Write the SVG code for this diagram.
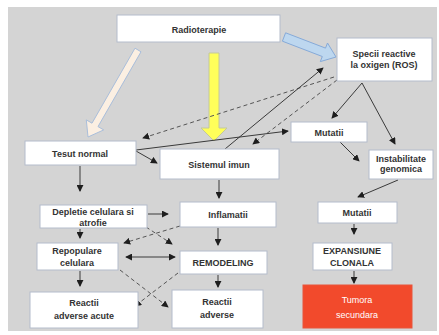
<svg xmlns="http://www.w3.org/2000/svg" width="439" height="335" viewBox="0 0 439 335">
<defs>
<marker id="ah" viewBox="0 0 8 8" refX="7" refY="4" markerWidth="7" markerHeight="7" markerUnits="userSpaceOnUse" orient="auto-start-reverse">
<path d="M0,0 L8,4 L0,8 z" fill="#1e1e1e"/>
</marker>
</defs>
<style>
.box{fill:#ffffff;stroke:#b4bccb;stroke-width:1}
.t{font-family:"Liberation Sans",Arial,sans-serif;font-size:9px;font-weight:bold;fill:#333333;text-anchor:middle}
.c{fill:none;stroke:#3a3a3a;stroke-width:1;marker-end:url(#ah)}
.d{fill:none;stroke:#555555;stroke-width:1;stroke-dasharray:4,3;marker-end:url(#ah)}
</style>
<rect x="0" y="0" width="439" height="335" fill="#ffffff"/>
<rect x="8" y="7" width="429" height="324" fill="#d4d4d4"/>

<g id="arrows-big">
<polygon points="141,51.8 98,126.6 103.7,129.9 88,137 86.3,119.9 92,123.2 135,48.2" fill="#fbefe2" stroke="#a9bedb" stroke-width="1"/>
<polygon points="209,53 219,53 219,128 227,128 214,141 201,128 209,128" fill="#ffff5a" stroke="#c4c99a" stroke-width="1"/>
<polygon points="282.4,41.2 322.3,56.5 320.3,61.6 336,57 327.5,43 325.5,48.1 285.6,32.8" fill="#bdd7ef" stroke="#86aad8" stroke-width="1"/>
</g>

<g id="connectors">
<path class="d" d="M334,77 L143,138"/>
<path class="c" d="M225,149 L323,68"/>
<path class="d" d="M337,80 L253,144"/>
<path class="c" d="M362,83 L332,118"/>
<path class="c" d="M362,83 L395,144"/>
<path class="c" d="M136,150 L288,131"/>
<path class="c" d="M136,151 L157,163"/>
<path class="c" d="M340,142 L359,161"/>
<path class="c" d="M398,180 L358,197"/>
<path class="c" d="M354,224 L354,234"/>
<path class="c" d="M354,271 L354,283"/>
<path class="c" d="M219,180 L219,198"/>
<path class="c" d="M218,228 L218,245"/>
<path class="c" d="M218,275 L218,287"/>
<path class="c" d="M80,166 L80,191"/>
<path class="c" d="M80,229 L80,238"/>
<path class="c" d="M80,271 L80,286"/>
<path class="c" d="M148,214 L168,214"/>
<path class="c" d="M126,257 L175,257" marker-start="url(#ah)"/>
<path class="d" d="M180,226 L124,243"/>
<path class="d" d="M146,227 L172,244"/>
<path class="d" d="M120,270 L168,307"/>
<path class="d" d="M178,273 L135,306"/>
</g>

<g id="radioterapie">
<rect class="box" x="117" y="15" width="163" height="27"/>
<text class="t" x="199" y="33" font-size="13">Radioterapie</text>
</g>
<g id="ros">
<rect class="box" x="337" y="38" width="95" height="43"/>
<text class="t" x="384" y="57">Specii reactive</text>
<text class="t" x="384" y="68">la oxigen (ROS)</text>
</g>
<g id="tesut-normal">
<rect class="box" x="25" y="141" width="111" height="24"/>
<text class="t" x="80" y="157" font-size="10">Tesut normal</text>
</g>
<g id="sistemul-imun">
<rect class="box" x="160" y="149" width="119" height="30"/>
<text class="t" x="219" y="168" font-size="10">Sistemul imun</text>
</g>
<g id="mutatii-1">
<rect class="box" x="291" y="122" width="76" height="20"/>
<text class="t" x="329" y="136" font-size="10">Mutatii</text>
</g>
<g id="instabilitate">
<rect class="box" x="369" y="150" width="64" height="29"/>
<text class="t" x="401" y="162" font-size="7.5">Instabilitate</text>
<text class="t" x="401" y="172" font-size="7.5">genomica</text>
</g>
<g id="depletie">
<rect class="box" x="40" y="205" width="107" height="23"/>
<text class="t" x="93" y="215">Depletie celulara si</text>
<text class="t" x="93" y="226">atrofie</text>
</g>
<g id="inflamatii">
<rect class="box" x="180" y="202" width="96" height="25"/>
<text class="t" x="228" y="218" font-size="10">Inflamatii</text>
</g>
<g id="mutatii-2">
<rect class="box" x="318" y="202" width="79" height="21"/>
<text class="t" x="357" y="216" font-size="10">Mutatii</text>
</g>
<g id="repopulare">
<rect class="box" x="37" y="243" width="81" height="27"/>
<text class="t" x="77" y="254">Repopulare</text>
<text class="t" x="77" y="266">celulara</text>
</g>
<g id="remodeling">
<rect class="box" x="180" y="251" width="87" height="23"/>
<text class="t" x="223" y="266">REMODELING</text>
</g>
<g id="expansiune">
<rect class="box" x="313" y="243" width="79" height="27"/>
<text class="t" x="352" y="254" font-size="8">EXPANSIUNE</text>
<text class="t" x="352" y="266" font-size="8">CLONALA</text>
</g>
<g id="reactii-acute">
<rect class="box" x="30" y="292" width="108" height="36"/>
<text class="t" x="84" y="306">Reactii</text>
<text class="t" x="84" y="319">adverse acute</text>
</g>
<g id="reactii-adverse">
<rect class="box" x="172" y="290" width="91" height="38"/>
<text class="t" x="217" y="305">Reactii</text>
<text class="t" x="217" y="318">adverse</text>
</g>
<g id="tumora">
<rect x="303" y="285" width="109" height="43" fill="#f24a2c" stroke="#e8553b" stroke-width="1"/>
<text class="t" x="357" y="303" font-size="12" style="fill:#ffffff;font-weight:normal">Tumora</text>
<text class="t" x="357" y="318" font-size="12" style="fill:#ffffff;font-weight:normal">secundara</text>
</g>
</svg>
